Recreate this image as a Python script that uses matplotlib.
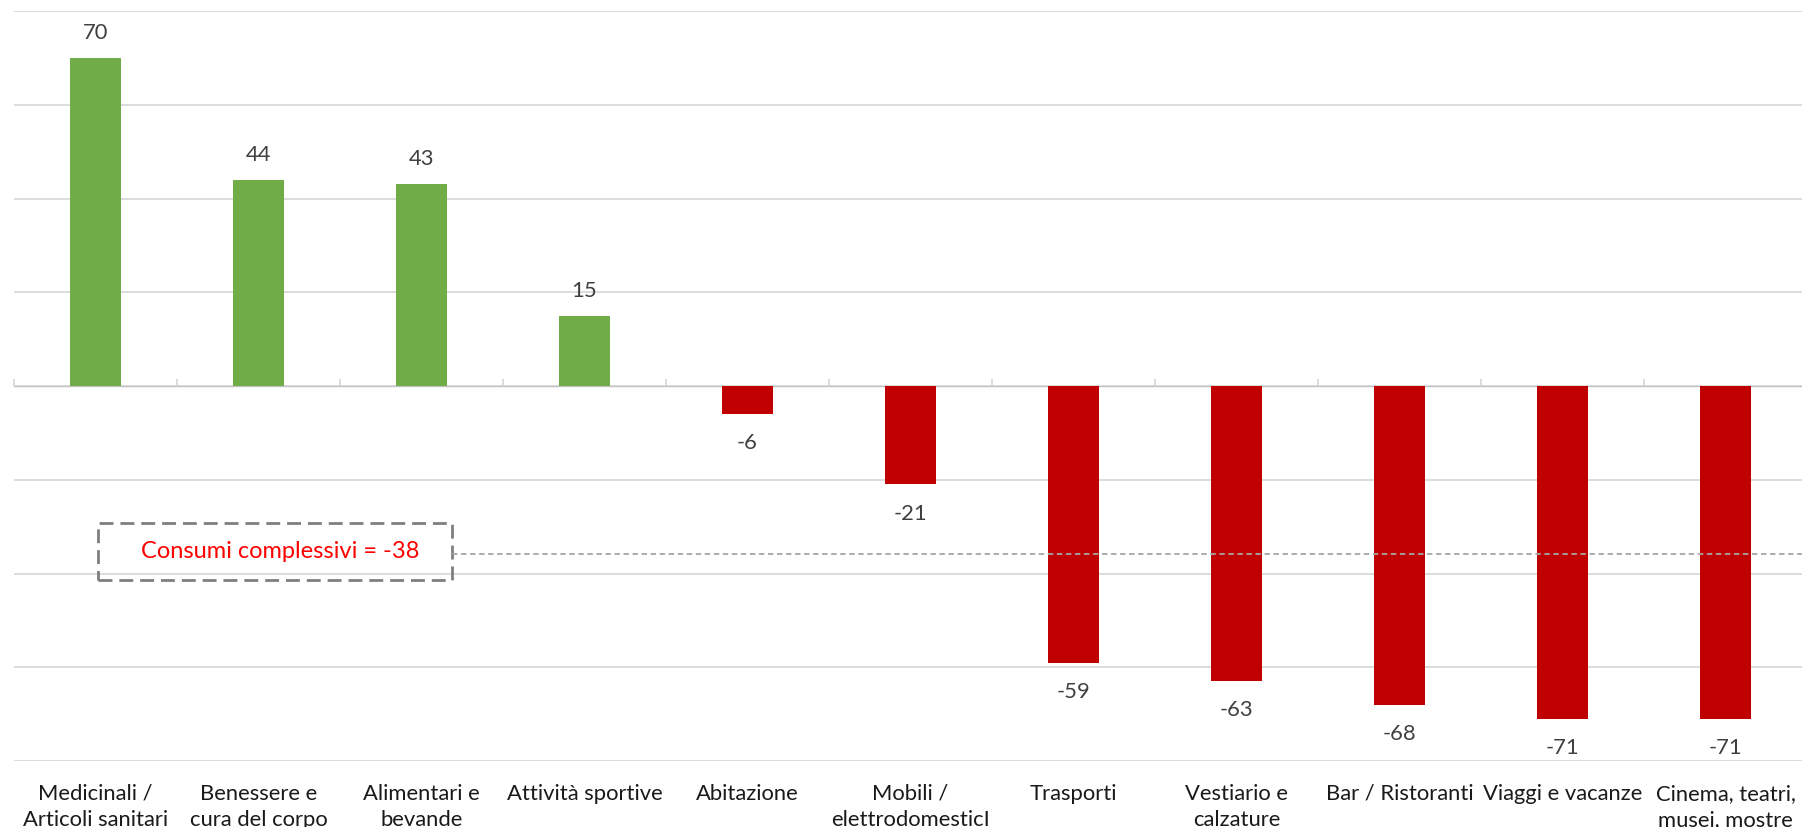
import matplotlib
matplotlib.use("Agg")
import matplotlib.pyplot as plt
from matplotlib.patches import Rectangle

categories = [
    "Medicinali /\nArticoli sanitari",
    "Benessere e\ncura del corpo",
    "Alimentari e\nbevande",
    "Attività sportive",
    "Abitazione",
    "Mobili /\nelettrodomesticI",
    "Trasporti",
    "Vestiario e\ncalzature",
    "Bar / Ristoranti",
    "Viaggi e vacanze",
    "Cinema, teatri,\nmusei, mostre",
]
values = [70, 44, 43, 15, -6, -21, -59, -63, -68, -71, -71]
overall_label = "Consumi complessivi = -38"
overall_line_y = -35.8  # visual position of the dashed reference line
y_ticks = [-80, -60, -40, -20, 0, 20, 40, 60, 80]

FONT = "Lato"
plt.rcParams["font.family"] = [FONT, "DejaVu Sans"]

W, H = 1802, 827
fig = plt.figure(figsize=(W / 100, H / 100), dpi=100)
left_px, top_px, bottom_px = 14, 11, 761
cat_w = 163
ax = fig.add_axes([left_px / W, 1 - bottom_px / H, cat_w * len(categories) / W,
                   (bottom_px - top_px) / H])

n = len(categories)
x = list(range(n))
colors = ["#70AD47" if v >= 0 else "#C00000" for v in values]
ax.bar(x, values, width=0.31, color=colors, zorder=3)

ax.set_xlim(-0.5, n - 0.5)
ax.set_ylim(-80, 80)
ax.set_yticks(y_ticks)
ax.yaxis.grid(True, color="#d9d9d9", linewidth=1.3, zorder=0)
ax.tick_params(axis="y", left=False, labelleft=False)
for s in ax.spines.values():
    s.set_visible(False)

# category labels at the bottom
ax.set_xticks(x)
ax.set_xticklabels(categories, fontsize=15.8, color="#1a1a1a", linespacing=1.4)
ax.tick_params(axis="x", length=0, pad=16.5)

# zero axis line with boundary tick marks
sec = ax.secondary_xaxis(0.5)
sec.set_xticks([i - 0.5 for i in range(n + 1)])
sec.set_xticklabels([])
sec.tick_params(axis="x", direction="out", length=5, width=1.3, color="#d9d9d9")
sec.spines["bottom"].set_color("#d9d9d9")
sec.spines["bottom"].set_linewidth(1.3)

# data labels
for xi, v in zip(x, values):
    off = 18 if v >= 0 else -21
    ax.annotate(f"{v}", (xi, v), xytext=(0, off), textcoords="offset points",
                ha="center", va="center", fontsize=15.8, color="#404040")

# reference box + dashed line
box_x0, box_x1 = 0.015, 2.187
box_y0, box_y1 = -41.3, -29.3
ax.add_patch(Rectangle((box_x0, box_y0), box_x1 - box_x0, box_y1 - box_y0,
                       fill=False, edgecolor="#7f7f7f", linewidth=2.0,
                       linestyle=(0, (5, 2.5)), zorder=4, clip_on=False))
ax.text((box_x0 + box_x1) / 2 + 0.03, (box_y0 + box_y1) / 2, overall_label,
        ha="center", va="center", fontsize=17, color="#ff0000", zorder=5)
ax.plot([box_x1, n - 0.5], [overall_line_y, overall_line_y], color="#a6a6a6",
        linewidth=1.3, linestyle=(0, (3, 2)), zorder=4)

fig.savefig("out.png", dpi=100, facecolor="white")
